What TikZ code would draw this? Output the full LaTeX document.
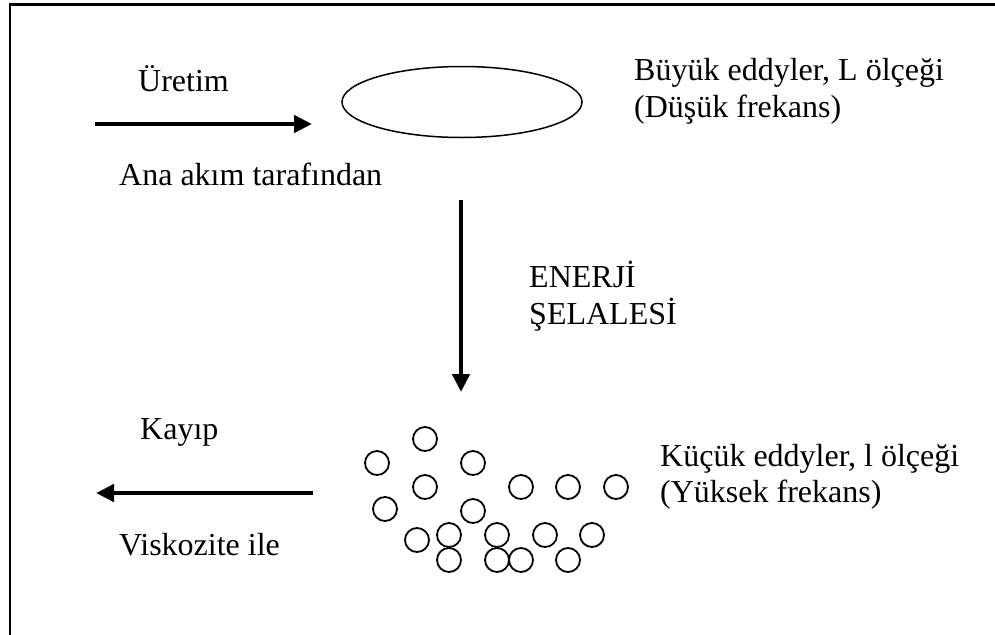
\documentclass[tikz,border=0pt]{standalone}
\usepackage{fontspec}
\setmainfont{Liberation Serif}
\usetikzlibrary{arrows.meta,shapes.geometric}
\begin{document}
\begin{tikzpicture}[x=1pt,y=-1pt,
  lbl/.style={anchor=base west,inner sep=0pt,font=\fontsize{32}{37}\selectfont,align=left},
  flow/.style={line width=4.8pt,-{Triangle[length=18pt,width=17pt]}},
  eddy/.style={circle,draw,line width=1.8pt,minimum size=24pt,inner sep=0pt},
  frame/.style={line width=2.6pt}]
  \useasboundingbox (0,0) rectangle (995,634);
  % outer frame (right and bottom edges lie outside the page)
  \begin{scope}
    \clip (0,0) rectangle (995,634);
    \draw[frame] (10,4.5) rectangle (1010,650);
  \end{scope}

  % production by the mean flow
  \node[lbl] (uretim) at (138,92) {Üretim};
  \coordinate (inA) at (95,124);
  \coordinate (inB) at (312,124);
  \draw[flow] (inA) -- (inB);
  \node[lbl] (ana) at (119,185) {Ana akım tarafından};

  % large eddy
  \node[ellipse,draw,line width=1.5pt,minimum width=240pt,minimum height=71pt,inner sep=0pt] (big) at (462,102) {};
  \node[lbl] (bigtxt) at (634,80) {Büyük eddyler, L ölçeği};
  \node[lbl] (bigfreq) at (634,117) {(Düşük frekans)};

  % energy cascade
  \coordinate (casA) at (461,200);
  \coordinate (casB) at (461,392);
  \draw[flow] (casA) -- (casB);
  \node[lbl] (enerji) at (529,287) {ENERJİ};
  \node[lbl] (selale) at (529,324) {ŞELALESİ};

  % small eddies
  \foreach \n/\p in {1/{425,439},2/{377,463},3/{473,463},4/{425,487},5/{521,487},
                     6/{568,487},7/{616,487},8/{385,509},9/{473,511},10/{417,540},
                     11/{449,535},12/{497,535},13/{545,535},14/{592,535},15/{449,560},
                     16/{497,560},17/{521,560},18/{568,560}}
    \node[eddy] (e\n) at (\p) {};
  \node[lbl] (smalltxt) at (660,466) {Küçük eddyler, l ölçeği};
  \node[lbl] (smallfreq) at (660,502) {(Yüksek frekans)};

  % dissipation by viscosity
  \node[lbl] (kayip) at (140,439) {Kayıp};
  \coordinate (outA) at (313,493);
  \coordinate (outB) at (96,493);
  \draw[flow] (outA) -- (outB);
  \node[lbl] (visk) at (119,555) {Viskozite ile};
\end{tikzpicture}
\end{document}
